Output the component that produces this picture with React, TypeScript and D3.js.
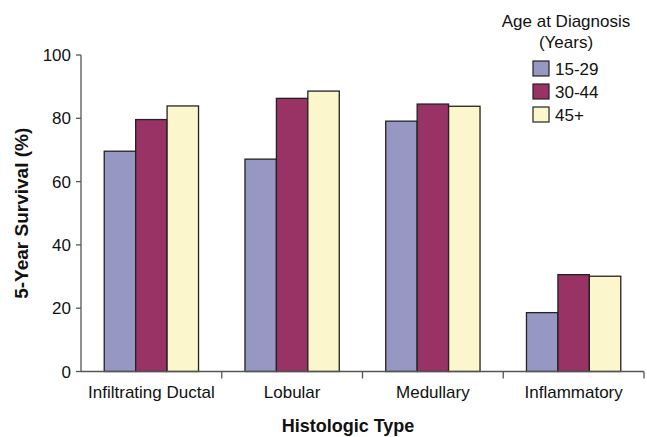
import React from "react";
import * as d3 from "d3";

const categories = ["Infiltrating Ductal", "Lobular", "Medullary", "Inflammatory"];
const seriesNames = ["15-29", "30-44", "45+"];
const age15to29 = [69.6, 67.1, 79.1, 18.6];
const age30to44 = [79.6, 86.3, 84.5, 30.6];
const age45plus = [83.9, 88.6, 83.8, 30.1];
const yTicks = [0, 20, 40, 60, 80, 100];
const colors = ["#9797C4", "#993366", "#FBF6CC"];

const W = 647;
const H = 437;
const FONT = "'Liberation Sans', Arial, Helvetica, sans-serif";

export default function App() {
  const series = [age15to29, age30to44, age45plus];
  const x = d3.scaleBand<string>().domain(categories).range([81, 644]).paddingInner(0.33).paddingOuter(0.165);
  const step = x.step();
  const inner = d3.scaleBand<number>().domain([0, 1, 2]).range([0, x.bandwidth()]);
  const y = d3.scaleLinear().domain([0, 100]).range([371.5, 55]);
  const x0 = 81;
  const x1 = 644;

  return (
    <svg width={W} height={H} style={{ position: "absolute", left: 0, top: 0, background: "#fff" }} fontFamily={FONT}>
      {categories.map((c, ci) =>
        series.map((s, si) => (
          <rect
            key={c + si}
            x={(x(c) as number) + (inner(si) as number)}
            y={y(s[ci])}
            width={inner.bandwidth()}
            height={y(0) - y(s[ci])}
            fill={colors[si]}
            stroke="#222"
            strokeWidth={1.3}
          />
        ))
      )}
      {/* y axis */}
      <line x1={x0} x2={x0} y1={y(100)} y2={y(0)} stroke="#555" strokeWidth={1.3} />
      {yTicks.map((t) => (
        <g key={t}>
          <line x1={x0 - 5} x2={x0} y1={y(t)} y2={y(t)} stroke="#555" strokeWidth={1.3} />
          <text x={x0 - 10} y={y(t)} dy="0.36em" textAnchor="end" fontSize={17} fill="#111">
            {t}
          </text>
        </g>
      ))}
      {/* x axis */}
      <line x1={x0} x2={x1} y1={y(0)} y2={y(0)} stroke="#555" strokeWidth={1.3} />
      {categories.map((c, i) => (
        <g key={c}>
          <line x1={x0 + step * (i + 1)} x2={x0 + step * (i + 1)} y1={y(0)} y2={y(0) + 7} stroke="#555" strokeWidth={1.3} />
          <text x={(x(c) as number) + x.bandwidth() / 2} y={398} textAnchor="middle" fontSize={17} fill="#111">
            {c}
          </text>
        </g>
      ))}
      <text x={348} y={432} textAnchor="middle" fontSize={18} fontWeight="bold" fill="#111">
        Histologic Type
      </text>
      <text
        transform={`translate(28,${(y(0) + y(100)) / 2}) rotate(-90)`}
        textAnchor="middle"
        fontSize={19}
        fontWeight="bold"
        fill="#111"
      >
        5-Year Survival (%)
      </text>
      {/* legend */}
      <text x={566} y={27} textAnchor="middle" fontSize={17} fill="#111">
        Age at Diagnosis
      </text>
      <text x={566} y={48} textAnchor="middle" fontSize={17} fill="#111">
        (Years)
      </text>
      {seriesNames.map((n, i) => (
        <g key={n}>
          <rect x={533} y={61 + i * 23} width={16} height={15} fill={colors[i]} stroke="#222" strokeWidth={1.2} />
          <text x={555} y={75 + i * 23} fontSize={17} fill="#111">
            {n}
          </text>
        </g>
      ))}
    </svg>
  );
}
